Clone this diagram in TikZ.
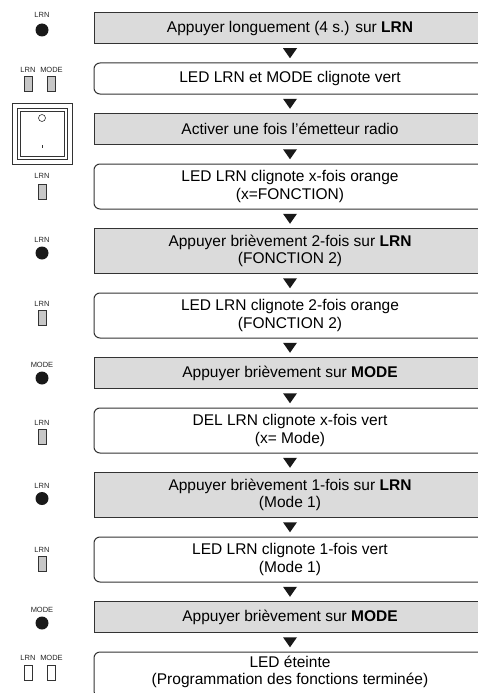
\documentclass[tikz,border=0pt]{standalone}
\usepackage{fontspec}
\setmainfont{Liberation Sans}
\usetikzlibrary{calc}
\usetikzlibrary{positioning}

\begin{document}
\begin{tikzpicture}[x=1pt,y=-1pt,
	etape/.style={draw=black!80,line width=1pt,fill=black!14,minimum width=392pt,minimum height=31pt,inner sep=0pt,outer sep=0pt,align=center,font=\fontsize{15.5}{17.5}\selectfont},
	etat/.style={etape,fill=white,rounded corners=6pt},
	haut/.style={minimum height=45pt},
	lbl/.style={inner sep=0pt,text=black!85,font=\fontsize{7.5}{8}\selectfont},
	led/.style={draw=black!80,line width=0.8pt,fill=black!22,minimum width=8pt,minimum height=15pt,inner sep=0pt},
	ledoff/.style={led,fill=white},
	bouton/.style={circle,fill=black!90,minimum size=13pt,inner sep=0pt}
	]
	\useasboundingbox (0,0) rectangle (478,693);
	\clip (0,0) rectangle (478,693);
	% etapes
	\node[etape] (b1) at (290,28) {Appuyer longuement (4 s.) sur \textbf{LRN}};
	\node[etat,below=19.5pt of b1] (b2) {LED LRN et MODE clignote vert};
	\node[etape,below=19.5pt of b2] (b3) {Activer une fois l’émetteur radio};
	\node[etat,haut,below=19.5pt of b3] (b4) {LED LRN clignote x-fois orange\\(x=FONCTION)};
	\node[etape,haut,below=19.5pt of b4] (b5) {Appuyer brièvement 2-fois sur \textbf{LRN}\\(FONCTION 2)};
	\node[etat,haut,below=19.5pt of b5] (b6) {LED LRN clignote 2-fois orange\\(FONCTION 2)};
	\node[etape,below=19.5pt of b6] (b7) {Appuyer brièvement sur \textbf{MODE}};
	\node[etat,haut,below=19.5pt of b7] (b8) {DEL LRN clignote x-fois vert\\(x= Mode)};
	\node[etape,haut,below=19.5pt of b8] (b9) {Appuyer brièvement 1-fois sur \textbf{LRN}\\(Mode 1)};
	\node[etat,haut,below=19.5pt of b9] (b10) {LED LRN clignote 1-fois vert\\(Mode 1)};
	\node[etape,below=19.5pt of b10] (b11) {Appuyer brièvement sur \textbf{MODE}};
	\node[etat,haut,below=19.5pt of b11] (b12) {LED éteinte\\(Programmation des fonctions terminée)\rule[-8pt]{0pt}{0pt}};
	% fleches
	\foreach \a/\b in {b1/b2,b2/b3,b3/b4,b4/b5,b5/b6,b6/b7,b7/b8,b8/b9,b9/b10,b10/b11,b11/b12}
		\fill[black!90] ($(\a.south)!0.5!(\b.north)$) +(-7,-5) -- +(7,-5) -- +(0,5) -- cycle;
	% LED et touches
	\node[lbl] (l1) at (42,15) {LRN};
	\node[bouton] (p1) at (42,30) {};
	\node[lbl] (l2a) at (28,70) {LRN};
	\node[lbl] (l2b) at (51.5,70) {MODE};
	\node[led] (d2a) at (28,83.5) {};
	\node[led] (d2b) at (51.5,83.5) {};
	% emetteur radio
	\draw[black!80,line width=0.6pt] (12,103) rectangle (72,164);
	\draw[black!80,line width=0.6pt] (17,108) rectangle (67,159);
	\draw[black!80,line width=0.6pt] (20,111) rectangle (64,156);
	\draw[black!80,line width=0.6pt] (42,118) circle (3.5);
	\draw[black!80,line width=0.8pt] (42,145) -- (42,148);
	\node[lbl] (l4) at (42,176) {LRN};
	\node[led] (d4) at (42,192) {};
	\node[lbl] (l5) at (42,240) {LRN};
	\node[bouton] (p5) at (42,253) {};
	\node[lbl] (l6) at (42,304) {LRN};
	\node[led] (d6) at (42,318) {};
	\node[lbl] (l7) at (42,365) {MODE};
	\node[bouton] (p7) at (42,378) {};
	\node[lbl] (l8) at (42,423) {LRN};
	\node[led] (d8) at (42,436.5) {};
	\node[lbl] (l9) at (42,486) {LRN};
	\node[bouton] (p9) at (42,498.5) {};
	\node[lbl] (l10) at (42,550) {LRN};
	\node[led] (d10) at (42,563.5) {};
	\node[lbl] (l11) at (42,610) {MODE};
	\node[bouton] (p11) at (42,623) {};
	\node[lbl] (l12a) at (28,658) {LRN};
	\node[lbl] (l12b) at (51.5,658) {MODE};
	\node[ledoff] (d12a) at (28,673) {};
	\node[ledoff] (d12b) at (51.5,673) {};
\end{tikzpicture}
\end{document}
